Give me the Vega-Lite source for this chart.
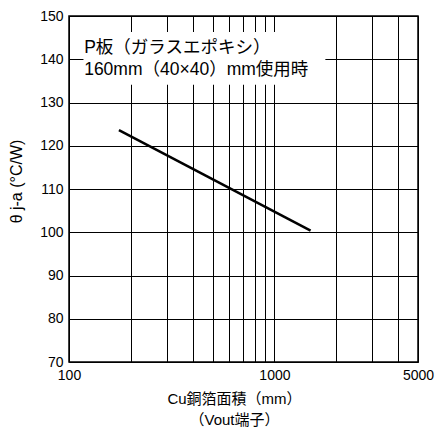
{
  "$schema": "https://vega.github.io/schema/vega-lite/v6.json",
  "autosize": "none",
  "width": 349,
  "height": 346,
  "padding": {"left": 69, "top": 16, "right": 20, "bottom": 66},
  "background": "white",
  "config": {
    "font": "Liberation Sans, Noto Sans CJK JP, sans-serif",
    "view": {"stroke": "#000", "strokeWidth": 1.5},
    "axis": {"labelFont": "Liberation Sans, Noto Sans CJK JP, sans-serif", "titleFont": "Liberation Sans, Noto Sans CJK JP, sans-serif"}
  },
  "datasets": {
    "curve": [
      {"area": 175, "theta": 123.6},
      {"area": 1500, "theta": 100.4}
    ],
    "note": [
      {"line1": "P板（ガラスエポキシ）", "line2": "160mm（40×40）mm使用時"}
    ]
  },
  "layer": [
    {
      "data": {"name": "curve"},
      "mark": {"type": "line", "color": "#000", "strokeWidth": 2.5},
      "encoding": {
        "x": {
          "field": "area",
          "type": "quantitative",
          "scale": {"type": "log", "domain": [100, 5000], "nice": false},
          "axis": {
            "values": [100, 200, 300, 400, 500, 600, 700, 800, 900, 1000, 2000, 3000, 4000, 5000],
            "labelExpr": "datum.value == 100 || datum.value == 1000 || datum.value == 5000 ? datum.label : ''",
            "format": "d",
            "grid": true,
            "gridColor": "#000",
            "gridOpacity": 1,
            "gridWidth": 1,
            "ticks": false,
            "domain": false,
            "labelFontSize": 14,
            "labelColor": "#000",
            "labelPadding": 6,
            "labelFlush": false,
            "labelOverlap": false,
            "title": ["Cu銅箔面積（mm）", "（Vout端子）"],
            "titleFontSize": 15,
            "titleFontWeight": "normal",
            "titleColor": "#000",
            "titlePadding": 9,
            "titleLineHeight": 21,
            "titleX": 165
          }
        },
        "y": {
          "field": "theta",
          "type": "quantitative",
          "scale": {"domain": [70, 150], "nice": false},
          "axis": {
            "values": [70, 80, 90, 100, 110, 120, 130, 140, 150],
            "grid": true,
            "gridColor": "#000",
            "gridOpacity": 1,
            "gridWidth": 1,
            "ticks": false,
            "domain": false,
            "labelFontSize": 14,
            "labelColor": "#000",
            "labelPadding": 6,
            "labelOverlap": false,
            "title": "θ  j-a  (°C/W)",
            "titleFontSize": 16,
            "titleFontWeight": "normal",
            "titleColor": "#000",
            "titlePadding": 15,
            "titleY": 165
          }
        }
      }
    },
    {
      "data": {"name": "note"},
      "mark": {"type": "rect", "fill": "white", "strokeWidth": 0},
      "encoding": {
        "x": {"datum": 117.6, "type": "quantitative"},
        "x2": {"datum": 1770},
        "y": {"datum": 146.3, "type": "quantitative"},
        "y2": {"datum": 134.1}
      }
    },
    {
      "data": {"name": "note"},
      "mark": {"type": "text", "align": "left", "baseline": "middle", "fontSize": 17.5, "color": "#000"},
      "encoding": {
        "x": {"datum": 118.5, "type": "quantitative"},
        "y": {"datum": 142.7, "type": "quantitative"},
        "text": {"field": "line1"}
      }
    },
    {
      "data": {"name": "note"},
      "mark": {"type": "text", "align": "left", "baseline": "middle", "fontSize": 17.5, "color": "#000"},
      "encoding": {
        "x": {"datum": 118.5, "type": "quantitative"},
        "y": {"datum": 137.4, "type": "quantitative"},
        "text": {"field": "line2"}
      }
    }
  ]
}
